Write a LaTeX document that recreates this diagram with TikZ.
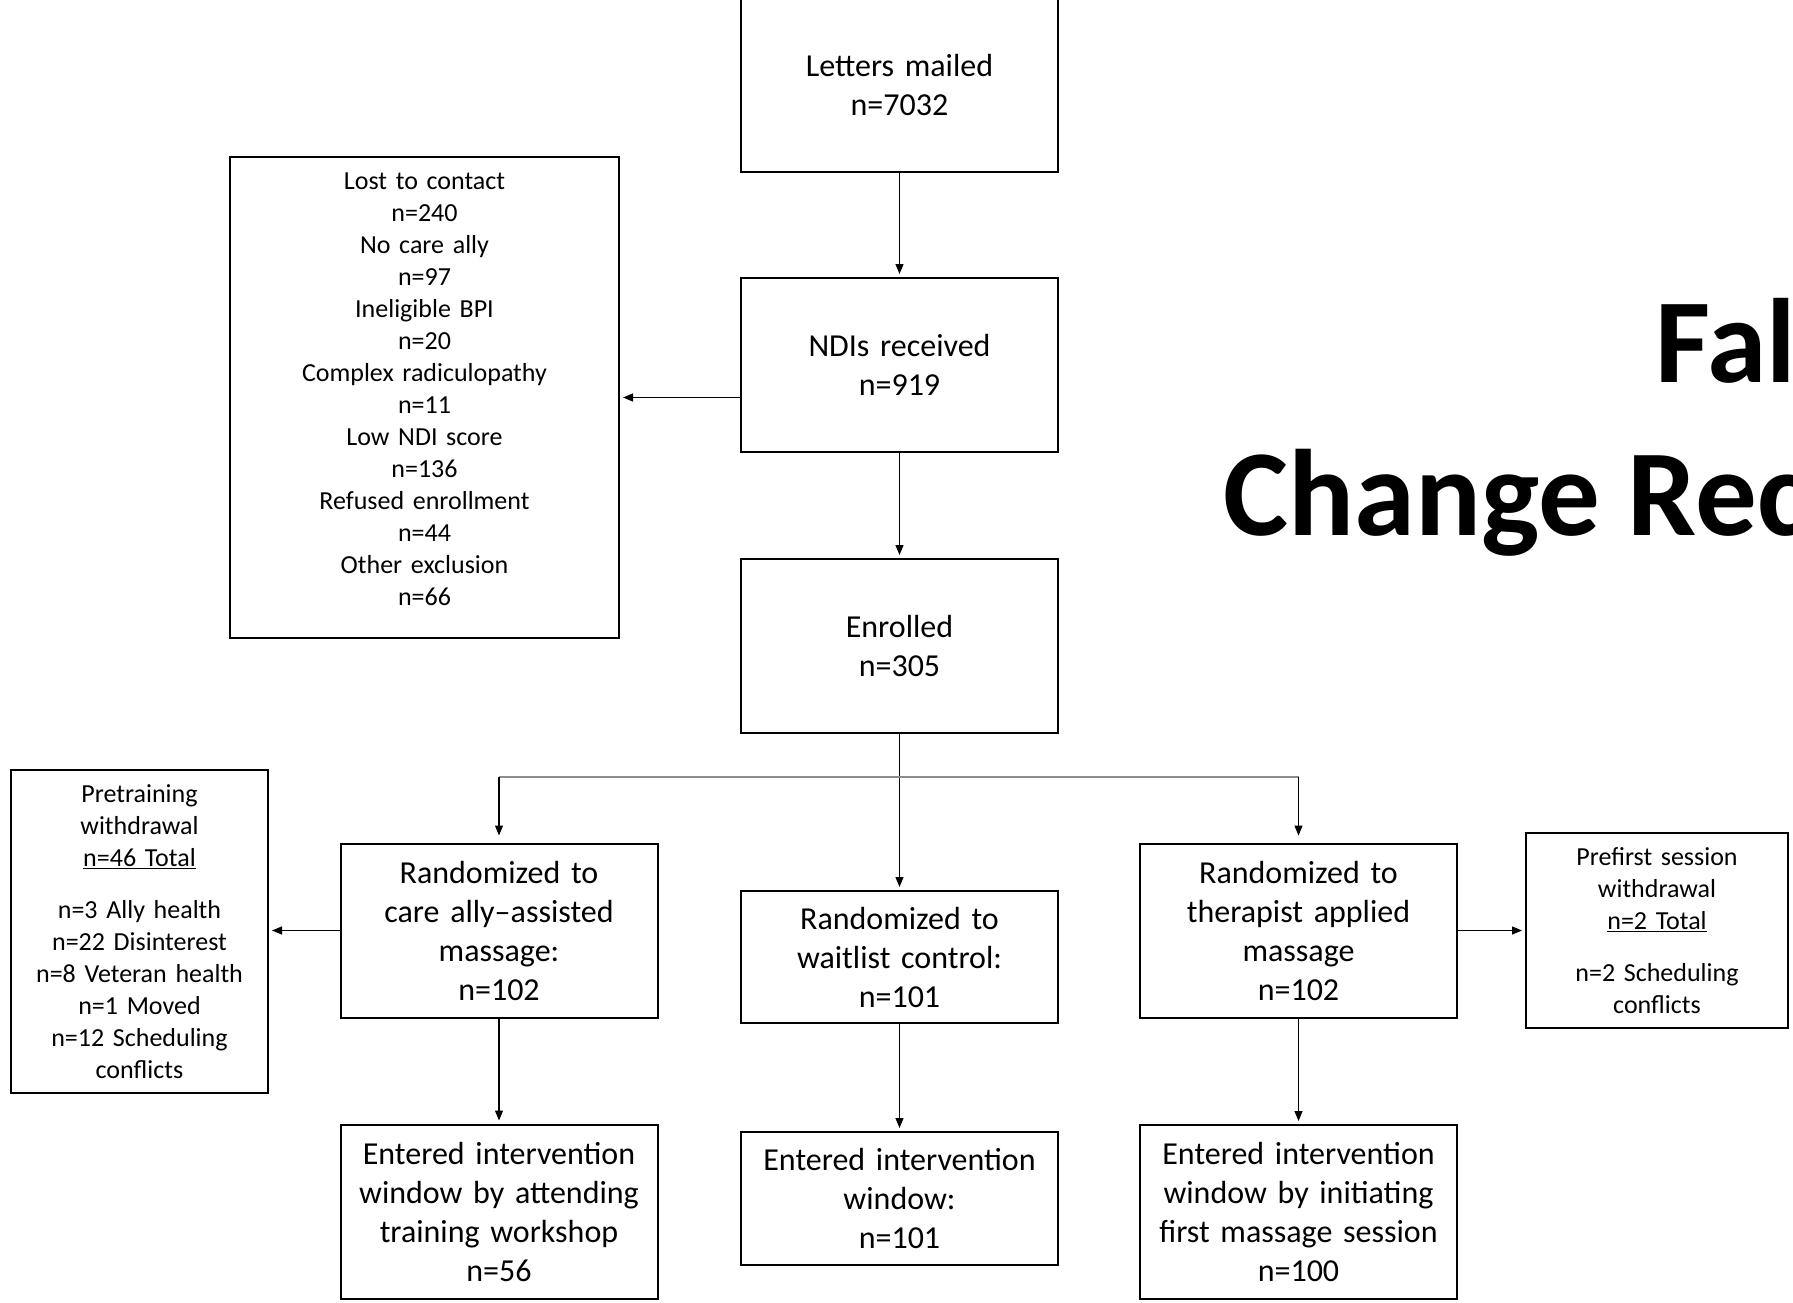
\documentclass[tikz,border=0pt]{standalone}
\usepackage{fontspec}
\setmainfont{Carlito}
\usepackage{tikz}
\usetikzlibrary{positioning,arrows.meta}
\tikzstyle{line} = [draw,line width=1.2pt]
\tikzstyle{arrow} = [line,-{Triangle[length=10pt,width=8pt]},shorten >=3pt]
\tikzstyle{box} = [draw,line width=2pt,rectangle,inner sep=0pt,align=center,minimum width=317pt,minimum height=174pt,text width=305pt,font=\fontsize{32}{39}\selectfont]
\tikzstyle{smallbox} = [box,font=\fontsize{26}{32}\selectfont]
\tikzstyle{title} = [anchor=base west,inner sep=0pt,font=\fontsize{120}{144}\selectfont\bfseries]

\begin{document}
\begin{tikzpicture}[auto,node distance=280pt]
  \useasboundingbox (0,0) rectangle (1793pt,-1303pt);
  \node[box] (letters) at (899.5pt,-85pt) {Letters mailed\\n=7032};
  \node[box] (ndi) [below of=letters] {NDIs received\\n=919};
  \node[box, node distance=281pt] (enrolled) [below of=ndi] {Enrolled\\n=305};
  \node[smallbox, minimum width=389pt, minimum height=481pt, text width=370pt, node distance=475pt, yshift=-32.5pt] (lost) [left of=ndi] {Lost to contact\\n=240\\No care ally\\n=97\\Ineligible BPI\\n=20\\Complex radiculopathy\\n=11\\Low NDI score\\n=136\\Refused enrollment\\n=44\\Other exclusion\\n=66\\[-16pt]\mbox{}};
  \node[box, minimum height=132pt, node distance=311pt] (waitlist) [below of=enrolled] {Randomized to\\waitlist control:\\n=101};
  \node[box, node distance=284.5pt, xshift=-400.5pt] (care) [below of=enrolled] {Randomized to\\care ally--assisted\\massage:\\n=102};
  \node[box, node distance=284.5pt, xshift=399pt] (therapist) [below of=enrolled] {Randomized to\\therapist applied\\massage\\n=102};
  \node[smallbox, minimum width=257pt, minimum height=323pt, text width=250pt, node distance=359.5pt, yshift=-1pt] (pretrain) [left of=care] {Pretraining\\withdrawal\\\underline{n=46 Total}\\[20pt]n=3 Ally health\\n=22 Disinterest\\n=8 Veteran health\\n=1 Moved\\n=12 Scheduling\\conflicts};
  \node[smallbox, minimum width=262pt, minimum height=195pt, text width=255pt, node distance=358.5pt] (prefirst) [right of=therapist] {Prefirst session\\withdrawal\\\underline{n=2 Total}\\[20pt]n=2 Scheduling\\conflicts};
  \node[box, node distance=281pt] (enteredcare) [below of=care] {Entered intervention\\window by attending\\training workshop\\n=56};
  \node[box, minimum height=133pt, node distance=241.5pt] (enteredwait) [below of=waitlist] {Entered intervention\\window:\\n=101};
  \node[box, node distance=281.5pt] (enteredther) [below of=therapist] {Entered intervention\\window by initiating\\first massage session\\n=100};
  \node[title] (title1) at (1655pt,-382pt) {Fal};
  \node[title, font=\fontsize{123}{148}\selectfont\bfseries] (title2) at (1223pt,-535pt) {Change Rec};
  \coordinate[below of=enrolled, node distance=131pt] (split);
  \path [arrow] (letters) -- (ndi);
  \path [arrow] (ndi) -- (enrolled);
  \path [arrow] (ndi.west |- lost.east) -- (lost.east);
  \path [arrow] (enrolled) -- (waitlist);
  \path [line, draw=black!45, line width=2pt] (care.north |- split) -- (therapist.north |- split);
  \path [arrow, shorten >=7pt] (care.north |- split) -- (care);
  \path [arrow, shorten >=7pt] (therapist.north |- split) -- (therapist);
  \path [arrow] (care.west) -- (care.west -| pretrain.east);
  \path [arrow] (therapist.east) -- (therapist.east -| prefirst.west);
  \path [arrow] (care) -- (enteredcare);
  \path [arrow] (waitlist) -- (enteredwait);
  \path [arrow] (therapist) -- (enteredther);
\end{tikzpicture}
\end{document}
